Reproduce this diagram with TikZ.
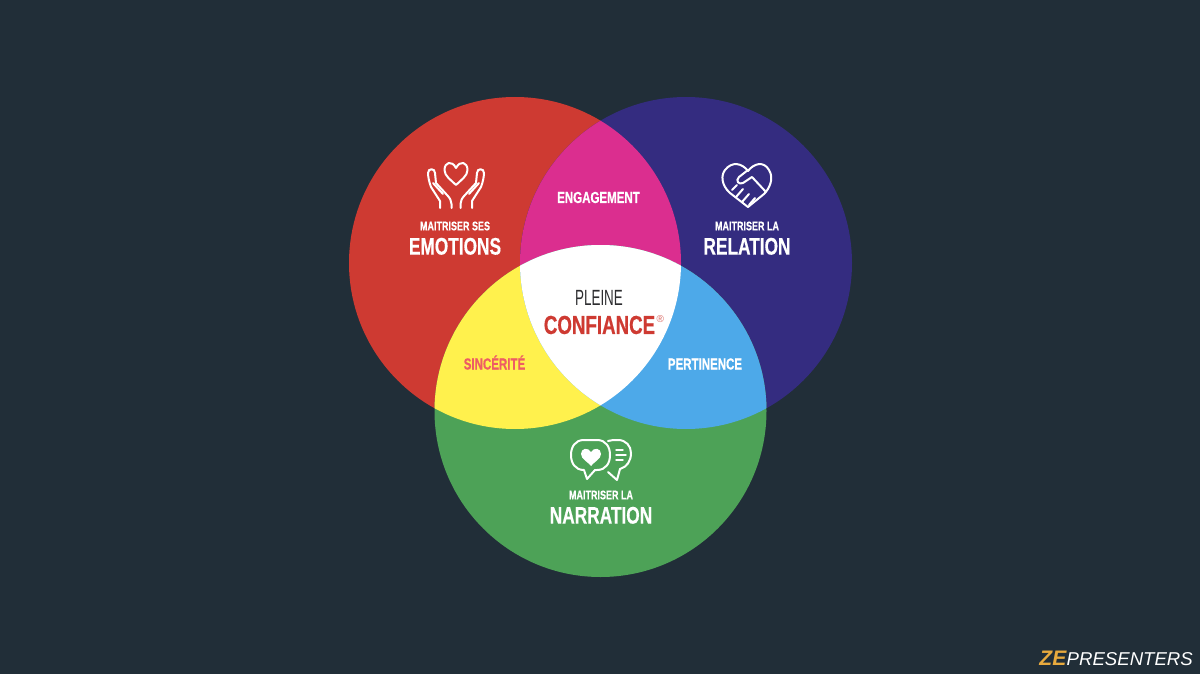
\documentclass[tikz,border=0pt]{standalone}
\usepackage{xcolor}
\usepackage{fontspec}
\usepackage{tikz}
\usetikzlibrary{positioning}
\setmainfont{Liberation Sans}[BoldFeatures={FakeBold=0.5}]
\newfontfamily\condfont[FakeStretch=0.72, BoldFeatures={FakeBold=0.5}]{Liberation Sans}
\newfontfamily\thinfont[FakeStretch=0.61]{Liberation Sans}
\definecolor{zeBack}{RGB}{33, 46, 56}
\definecolor{zeRed}{RGB}{206, 58, 50}
\definecolor{zeBlue}{RGB}{52, 44, 128}
\definecolor{zeGreen}{RGB}{77, 162, 87}
\definecolor{zeMagenta}{RGB}{219, 46, 143}
\definecolor{zeYellow}{RGB}{255, 241, 77}
\definecolor{zeSky}{RGB}{77, 169, 233}
\definecolor{zeGold}{RGB}{232, 170, 62}
\definecolor{zeSalmon}{RGB}{238, 92, 100}
\definecolor{zeInk}{RGB}{45, 45, 48}
\newcommand{\redpath}{(515,263) circle[radius=166]}
\newcommand{\bluepath}{(686,263) circle[radius=166]}
\newcommand{\greenpath}{(600.5,411) circle[radius=166]}

\begin{document}
\begin{tikzpicture}[
    x=1pt, y=-1pt,
    label/.style={
        text=#1,
        inner sep=0pt,
        font=\condfont\bfseries\fontsize{12.5}{13}\selectfont
    },
    title/.style={
        text=white,
        inner sep=0pt,
        font=\condfont\bfseries\fontsize{24}{25}\selectfont
    },
    overlap/.style={
        text=#1,
        inner sep=0pt,
        anchor=base,
        font=\condfont\bfseries\fontsize{16}{16}\selectfont
    },
    icon/.style={draw=white, line width=2pt, line join=round, line cap=round}
]
    \useasboundingbox (0,0) rectangle (1200,674);
    \fill[zeBack] (0,0) rectangle (1200,674);

    % Circles
    \fill[zeRed] \redpath;
    \fill[zeBlue] \bluepath;
    \fill[zeGreen] \greenpath;

    % Overlaps
    \begin{scope}
        \clip \redpath;
        \fill[zeMagenta] \bluepath;
        \fill[zeYellow] \greenpath;
    \end{scope}
    \begin{scope}
        \clip \bluepath;
        \fill[zeSky] \greenpath;
    \end{scope}
    \begin{scope}
        \clip \redpath;
        \clip \bluepath;
        \fill[white] \greenpath;
    \end{scope}

    % Hands icon
    \draw[icon] (456,168) .. controls (452,160) and (444.5,162) .. (444.5,170)
        .. controls (444.5,176) and (451,180) .. (456,185)
        .. controls (461,180) and (467.5,176) .. (467.5,170)
        .. controls (467.5,162) and (460,160) .. (456,168) -- cycle;
    \foreach \side in {1,-1} {
        \begin{scope}[shift={(456,0)}, xscale=\side]
            \draw[icon] (-16,208) -- (-16,201) -- (-25,187) .. controls (-27,182) and (-28,176) .. (-28,173)
                .. controls (-28,168) and (-21,168) .. (-21,173) -- (-20,183)
                -- (-9,195) .. controls (-6,198) and (-4.5,201) .. (-4.5,204) -- (-4.5,208);
            \draw[icon] (-23,183) -- (-13,194);
        \end{scope}
    }

    % Handshake icon
    \draw[icon] (748,207) -- (730,193) .. controls (721,185) and (721,175) .. (725,170)
        .. controls (732,161) and (742,163) .. (748,171)
        .. controls (754,163) and (764,161) .. (769,170)
        .. controls (774,178) and (770,188) .. (764,194) -- cycle;
    \draw[icon] (748,170) -- (739,177) .. controls (735,181) and (739,185) .. (743,183)
        -- (752,177) -- (766,192);
    \draw[icon] (737,185) -- (732,190);
    \draw[icon] (743,189) -- (736,197);
    \draw[icon] (749,194) -- (742,202);
    \draw[icon] (755,198) -- (749,205);

    % Speech icon
    \draw[icon] (590,440) -- (584,440) .. controls (575,440) and (571,447) .. (571,455)
        .. controls (571,463) and (575,470) .. (584,470)
        -- (587,479) -- (595,470) -- (597,470)
        .. controls (606,470) and (610,463) .. (610,455)
        .. controls (610,447) and (606,440) .. (597,440) -- cycle;
    \draw[icon] (608,441) .. controls (611,440) and (614,440) .. (618,440)
        .. controls (626,440) and (631,446) .. (631,453)
        .. controls (631,461) and (627,467) .. (620,469) -- (617,480) -- (608,472);
    \draw[icon, line width=1.4pt] (616,450) -- (623,450);
    \draw[icon, line width=1.4pt] (616,455) -- (626,455);
    \draw[icon, line width=1.4pt] (616,460) -- (623,460);
    \fill[white] (591,452) .. controls (588,447) and (581,448) .. (581,454)
        .. controls (581,459) and (588,462) .. (591,466)
        .. controls (594,462) and (601,459) .. (601,454)
        .. controls (601,448) and (594,447) .. (591,452) -- cycle;

    % Red circle text
    \node[label=white] (emotionsTop) at (455,226) {MAITRISER SES};
    \node[title, below=7pt of emotionsTop] (emotions) {EMOTIONS};

    % Blue circle text
    \node[label=white] (relationTop) at (747,226) {MAITRISER LA};
    \node[title, below=7pt of relationTop] (relation) {RELATION};

    % Green circle text
    \node[label=white] (narrationTop) at (601,495) {MAITRISER LA};
    \node[title, below=7pt of narrationTop] (narration) {NARRATION};

    % Overlap text
    \node[overlap=white] (engagement) at (598.5,203) {ENGAGEMENT};
    \node[overlap=zeSalmon] (sincerite) at (494.5,369.5) {SINCÉRITÉ};
    \node[overlap=white] (pertinence) at (705,369.5) {PERTINENCE};

    % Centre text
    \node[inner sep=0pt, text=zeInk, font=\thinfont\fontsize{22}{22}\selectfont] (pleine) at (599,298) {PLEINE};
    \node[inner sep=0pt, text=zeRed, font=\condfont\bfseries\fontsize{26}{26}\selectfont] (confiance) at (599.5,325) {CONFIANCE};
    \node[inner sep=0pt, text=zeRed!75, font=\fontsize{10}{10}\selectfont, right=1pt of confiance.north east, yshift=-3pt] (mark) {®};

    % Brand
    \node[inner sep=0pt, anchor=base east, text=white, font=\itshape\fontsize{18.6}{19}\selectfont] (presenters) at (1193,665) {PRESENTERS};
    \node[inner sep=0pt, anchor=base east, text=zeGold, font=\bfseries\itshape\fontsize{21}{19}\selectfont] (ze) at (presenters.base west) {ZE};
\end{tikzpicture}
\end{document}
